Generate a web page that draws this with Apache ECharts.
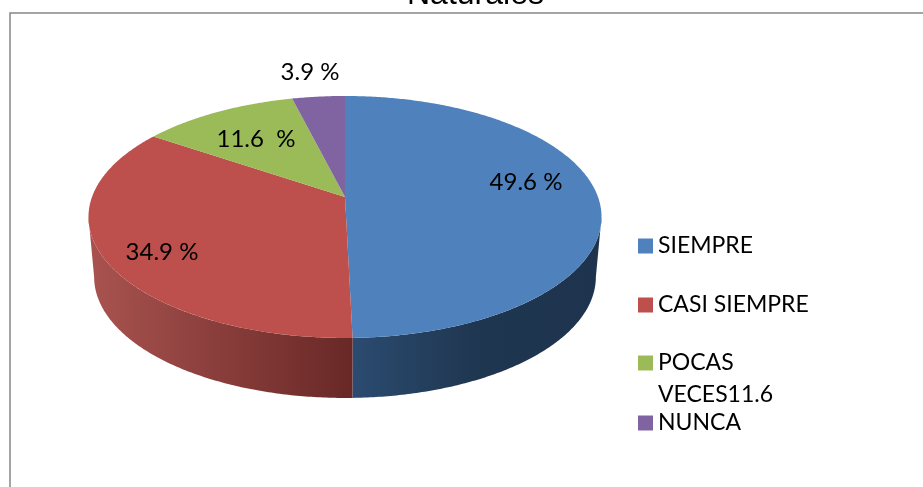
<!DOCTYPE html>
<html>
<head>
<meta charset="utf-8">
<style>html,body{margin:0;padding:0;background:#fff;overflow:hidden}#c{width:923px;height:487px}</style>
<script src="https://cdn.jsdelivr.net/npm/echarts@6/dist/echarts.min.js"></script>
</head>
<body>
<div id="c"></div>
<script>
const categories = ['SIEMPRE', 'CASI SIEMPRE', 'POCAS VECES11.6', 'NUNCA'];
const values = [49.6, 34.9, 11.6, 3.9];
const sliceLabels = ['49.6 %', '34.9 %', '11.6  %', '3.9 %'];
const colors = ['#4f81bd', '#bd4f4c', '#9bbb59', '#8064a2'];
const titleText = 'Naturales';

// Perspective model of the tilted disc
const CX = 345, CY = 197, BX = 253, AY = 117.7, K = 0.165, DEPTH = 60, BOTTOM_SCALE = 0.978;
const labelAnchors = [[526, 182], [162, 252], [256, 139], [310, 72]];
const sideFills = [
  [[0, '#2b4b70'], [0.5, '#1f3650'], [1, '#1e344e']],
  [[0, '#a8524f'], [1, '#682826']]
];
const sideSpans = [[353, 600], [95, 353]];
const total = values.reduce((a, b) => a + b, 0);
const EDGE = Math.acos(-K); // silhouette angle of the disc

function project(t) {
  const w = 1 + K * Math.cos(t);
  return [CX + BX * Math.sin(t) / w, CY - AY * Math.cos(t) / w];
}
function lower(t) {
  const p = project(t);
  return [CX + (p[0] - CX) * BOTTOM_SCALE, p[1] + DEPTH];
}
function arc(a0, a1, fn) {
  const n = Math.max(2, Math.ceil(Math.abs(a1 - a0) / 0.01));
  const pts = [];
  for (let i = 0; i <= n; i++) pts.push(fn(a0 + (a1 - a0) * i / n));
  return pts;
}
function renderSlice(idx) {
  return function () {
    let before = 0;
    for (let i = 0; i < idx; i++) before += values[i];
    const a0 = before / total * Math.PI * 2;
    const a1 = (before + values[idx]) / total * Math.PI * 2;
    const children = [];
    const s0 = Math.max(a0, EDGE), s1 = Math.min(a1, Math.PI * 2 - EDGE);
    if (s1 > s0 && sideFills[idx]) {
      const pts = arc(s0, s1, project).concat(arc(s1, s0, lower));
      children.push({
        type: 'polygon',
        shape: { points: pts },
        style: {
          fill: new echarts.graphic.LinearGradient(sideSpans[idx][0], 0, sideSpans[idx][1], 0,
            sideFills[idx].map(s => ({ offset: s[0], color: s[1] })), true)
        }
      });
    }
    children.push({
      type: 'polygon',
      shape: { points: [[CX, CY]].concat(arc(a0, a1, project)) },
      style: { fill: colors[idx] }
    });
    children.push({
      type: 'text',
      z2: 10,
      style: {
        text: sliceLabels[idx],
        x: labelAnchors[idx][0], y: labelAnchors[idx][1],
        align: 'center', verticalAlign: 'middle',
        font: '24px Lato', fill: '#000'
      }
    });
    return { type: 'group', children };
  };
}

const legendText = { fontFamily: 'Lato', fontSize: 23, color: '#000', lineHeight: 32 };
const baseLegend = { orient: 'vertical', left: 638, padding: 0, itemWidth: 15, itemHeight: 15, icon: 'rect', selectedMode: false };

const chart = echarts.init(document.getElementById('c'), null, { renderer: 'canvas' });
chart.setOption({
  animation: false,
  backgroundColor: '#fff',
  title: {
    text: titleText, left: 407, top: -21, padding: 0,
    textStyle: { fontFamily: 'Liberation Sans', fontSize: 32, fontWeight: 'normal', color: '#000' }
  },
  graphic: [{
    type: 'rect', silent: true, z: -1,
    shape: { x: 10, y: 13, width: 1000, height: 1000 },
    style: { fill: 'none', stroke: '#868686', lineWidth: 1.5 }
  }],
  legend: [
    Object.assign({}, baseLegend, { top: 230, itemGap: 27, data: categories.slice(0, 2), textStyle: legendText }),
    Object.assign({}, baseLegend, { top: 315, data: [categories[2]], textStyle: legendText,
      formatter: n => '\nPOCAS\nVECES11.6' }),
    Object.assign({}, baseLegend, { top: 407, data: [categories[3]], textStyle: legendText })
  ],
  series: categories.map((name, i) => ({
    type: 'custom',
    name,
    coordinateSystem: 'none',
    silent: true,
    itemStyle: { color: colors[i] },
    data: [values[i]],
    renderItem: renderSlice(i)
  }))
});
</script>
</body>
</html>
